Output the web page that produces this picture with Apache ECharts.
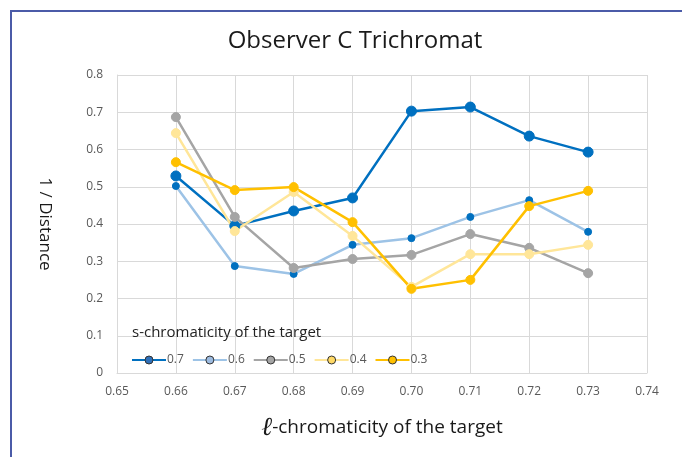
<!DOCTYPE html>
<html>
<head>
<meta charset="utf-8">
<script src="https://cdn.jsdelivr.net/npm/echarts@6/dist/echarts.min.js"></script>
<style>
  html, body { margin: 0; padding: 0; background: #fff; }
  #chart { width: 682px; height: 457px; }
  #frame { position: absolute; left: 10px; top: 10px; width: 690px; height: 460px;
           border-left: 2px solid #4b5ba8; border-top: 2px solid #4b5ba8; pointer-events: none; }
</style>
</head>
<body>
<div id="chart"></div>
<div id="frame"></div>
<script>
// l-chromaticity of the target (x)
var lChroma = [0.66, 0.67, 0.68, 0.69, 0.70, 0.71, 0.72, 0.73];
var s07 = [0.529, 0.395, 0.435, 0.470, 0.703, 0.714, 0.636, 0.593];
var s06 = [0.502, 0.287, 0.266, 0.344, 0.362, 0.419, 0.464, 0.379];
var s05 = [0.687, 0.419, 0.282, 0.306, 0.317, 0.373, 0.336, 0.268];
var s04 = [0.644, 0.381, 0.486, 0.368, 0.231, 0.319, 0.319, 0.344];
var s03 = [0.566, 0.491, 0.499, 0.405, 0.226, 0.250, 0.448, 0.489];
var seriesNames = ['0.7', '0.6', '0.5', '0.4', '0.3'];
var legendFill = ['#2f6fb8', '#9dbbe0', '#a5a5a5', '#ffd966', '#ffc000'];

var myChart = echarts.init(document.getElementById('chart'));

function pairs(ys) {
  return lChroma.map(function (x, i) { return [x, ys[i]]; });
}

function mkSeries(name, ys, lineColor, dotColor, size) {
  return {
    name: name,
    type: 'line',
    data: pairs(ys),
    symbol: 'circle',
    symbolSize: size,
    lineStyle: { color: lineColor, width: 2.5 },
    itemStyle: { color: dotColor, borderColor: dotColor },
    z: 3
  };
}

var option = {
  animation: false,
  backgroundColor: '#fff',
  textStyle: { fontFamily: 'Open Sans' },
  title: [
    {
      text: 'Observer C Trichromat',
      left: 350, top: 24, textAlign: 'center',
      textStyle: { fontFamily: 'Open Sans', fontSize: 24, fontWeight: 'normal', color: '#1a1a1a' }
    },
    {
      text: 's-chromaticity of the target',
      left: 127, top: 320,
      textStyle: { fontFamily: 'Open Sans', fontSize: 15, fontWeight: 'normal', color: '#222' }
    }
  ],
  legend: {
    data: seriesNames.map(function (n, i) {
      return { name: n, itemStyle: { color: legendFill[i], borderColor: '#333', borderWidth: 1 } };
    }),
    left: 126, top: 349,
    itemWidth: 34, itemHeight: 10, itemGap: 8,
    textStyle: { fontSize: 12, color: '#595959', padding: [0, 0, 0, -4] }
  },
  grid: { left: 117, right: 35, top: 75, bottom: 84 },
  xAxis: {
    type: 'value',
    min: 0.65, max: 0.74, interval: 0.01,
    name: '{l|ℓ}-chromaticity of the target',
    nameLocation: 'middle', nameGap: 42,
    nameTextStyle: {
      fontSize: 19, color: '#1a1a1a',
      rich: { l: { fontSize: 26, fontFamily: 'DejaVu Serif', fontStyle: 'italic', color: '#1a1a1a' } }
    },
    axisLine: { lineStyle: { color: '#d9d9d9' } },
    axisTick: { show: false },
    axisLabel: { color: '#595959', fontSize: 12, margin: 13, formatter: function (v) { return v.toFixed(2); } },
    splitLine: { show: true, lineStyle: { color: '#d9d9d9' } }
  },
  yAxis: {
    type: 'value',
    min: 0, max: 0.8, interval: 0.1,
    name: '1 / Distance',
    nameLocation: 'middle', nameGap: 64, nameRotate: -90,
    nameTextStyle: { fontSize: 17, color: '#1a1a1a' },
    axisLine: { show: true, lineStyle: { color: '#d9d9d9' } },
    axisTick: { show: false },
    axisLabel: { color: '#595959', fontSize: 12, margin: 14, formatter: function (v) { return v === 0 ? '0' : v.toFixed(1); } },
    splitLine: { show: true, lineStyle: { color: '#d9d9d9' } }
  },
  series: [
    mkSeries('0.7', s07, '#0070c0', '#0070c0', 10),
    mkSeries('0.6', s06, '#9dc3e6', '#0070c0', 7),
    mkSeries('0.5', s05, '#a5a5a5', '#a5a5a5', 9),
    mkSeries('0.4', s04, '#ffe699', '#ffe699', 9),
    mkSeries('0.3', s03, '#ffc000', '#ffc000', 9)
  ]
};

myChart.setOption(option);
</script>
</body>
</html>
